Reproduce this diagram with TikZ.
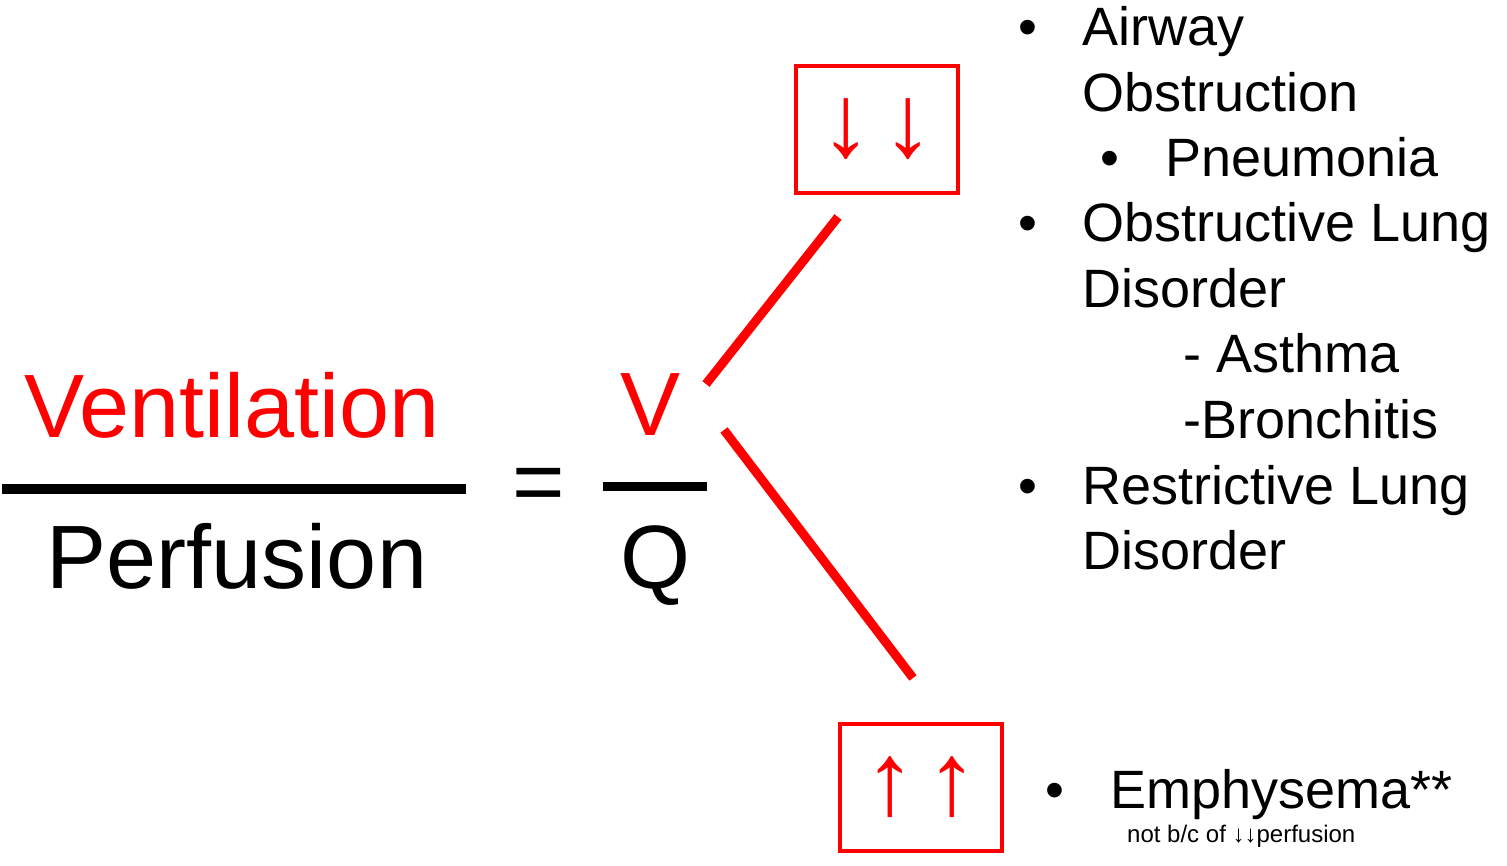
\documentclass[tikz,border=0pt]{standalone}
\usepackage{fontspec}
\setmainfont{Liberation Sans}
\usepackage{xcolor}
\usetikzlibrary{positioning}

\begin{document}
\begin{tikzpicture}[x=1pt, y=-1pt,
    big/.style={font=\fontsize{90}{90}\selectfont, inner sep=0pt, anchor=base},
    item/.style={font=\fontsize{54}{54}\selectfont, inner sep=0pt, anchor=base west},
    dot/.style={font=\fontsize{54}{54}\selectfont, inner sep=0pt, anchor=base},
    arrowbox/.style={draw=red, line width=4pt, minimum width=162pt,
      minimum height=127pt, inner sep=0pt, text=red,
      font=\bfseries\fontsize{103}{103}\selectfont},
    bar/.style={line width=10pt},
    branch/.style={red, line width=9pt}]

  \useasboundingbox (0,0) rectangle (1507,866);

  % left fraction
  \node[big, text=red] (vent) at (232,437) {Ventilation};
  \node[big] (perf) at (237,588) {Perfusion};
  \coordinate (barl) at (2,489);
  \coordinate (barr) at (466,489);
  \draw[bar] (barl) -- (barr);
  \node[big] (eq) at (539,512) {=};

  % V over Q
  \node[big, text=red] (v) at (651,435) {V};
  \node[big] (q) at (655,588) {Q};
  \coordinate (vql) at (603,486);
  \coordinate (vqr) at (707,486);
  \draw[line width=9pt] (vql) -- (vqr);

  % boxes
  \node[arrowbox] (low) at (877,129.5) {↓\hspace{11pt}↓};
  \node[arrowbox] (high) at (921,787) {↑\hspace{11pt}↑};

  % branches
  \coordinate (up0) at (706,384);
  \coordinate (up1) at (838,217);
  \coordinate (dn0) at (724,430);
  \coordinate (dn1) at (913,678);
  \draw[branch] (up0) -- (up1);
  \draw[branch] (dn0) -- (dn1);

  % causes of low V/Q
  \node[dot] (b1) at (1028,46) {•};
  \node[item] (t1) at (1082,46) {Airway};
  \node[item] (t2) at (1082,112) {Obstruction};
  \node[dot] (b2) at (1110,177) {•};
  \node[item] (t3) at (1165,177) {Pneumonia};
  \node[dot] (b3) at (1028,242) {•};
  \node[item] (t4) at (1082,242) {Obstructive Lung};
  \node[item] (t5) at (1082,308) {Disorder};
  \node[item] (t6) at (1183,373) {- Asthma};
  \node[item] (t7) at (1183,438) {-Bronchitis};
  \node[dot] (b4) at (1028,504) {•};
  \node[item] (t8) at (1082,504) {Restrictive Lung};
  \node[item] (t9) at (1082,569) {Disorder};

  % high V/Q
  \node[dot] (b5) at (1055,808) {•};
  \node[item] (t10) at (1110,808) {Emphysema**};
  \node[font=\fontsize{24}{24}\selectfont, inner sep=0pt, anchor=base west]
    (note) at (1127,842) {not b/c of ↓↓perfusion};

\end{tikzpicture}
\end{document}
